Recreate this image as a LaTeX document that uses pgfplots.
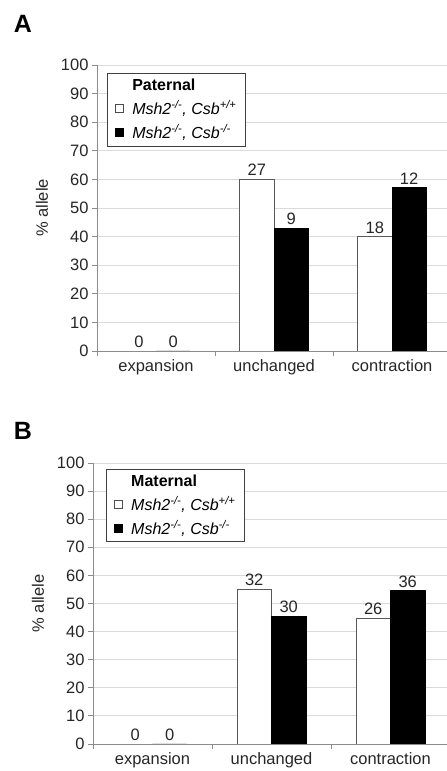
\documentclass[border=0pt]{standalone}
\usepackage{fontspec}
\setmainfont{Liberation Sans}
\usepackage{pgfplots}
\pgfplotsset{compat=1.18}
\definecolor{gridc}{HTML}{DADADA}
\definecolor{axc}{HTML}{8C8C8C}
\definecolor{txt}{HTML}{262626}
\newcommand{\fs}{\fontsize{16.5}{19}\selectfont}
\newcommand{\fl}{\fontsize{16}{19}\selectfont}
\pgfplotsset{
 mybar/.style={
  scale only axis, ymin=0, ymax=100, ytick={0,10,...,100},
  xmin=-0.5,
  axis x line*=bottom, axis y line*=left,
  axis line style={axc, line width=0.8pt, -},
  ymajorgrids, grid style={gridc, line width=0.8pt},
  xtick={0,1,2}, xticklabels={expansion,unchanged,contraction},
  minor xtick={-0.5,0.5,1.5},
  major x tick style={draw=none},
  minor x tick style={axc, line width=0.8pt},
  y tick style={axc, line width=0.8pt},
  tick align=outside,
  major tick length=5pt, minor tick length=5pt,
  tick label style={font=\fs, text=txt},
  /pgf/number format/assume math mode=true,
  ylabel={\% allele},
  every axis y label/.style={at={(rel axis cs:0,0.5)}, xshift=-55pt, rotate=90, anchor=center, font=\fs, text=txt},
  bar width=0.29,
  nodes near coords, point meta=explicit symbolic,
  every node near coord/.append style={font=\fs, text=txt, anchor=south, inner sep=3pt},
  legend cell align=left,
  legend style={anchor=north west, draw=black!75, line width=0.8pt, font=\fl,
     inner xsep=7pt, inner ysep=4pt, row sep=4pt},
 },
 wbar/.style={ybar, bar shift=0pt, fill=white, draw=black!65, line width=0.8pt,
   legend image code/.code={\draw[fill=white,draw=black!70,line width=0.6pt] (0pt,-4pt) rectangle (8pt,4pt); \path (15pt,0pt);}},
 bbar/.style={ybar, bar shift=0pt, fill=black, draw=black, line width=0.8pt,
   legend image code/.code={\draw[fill=black,draw=black,line width=0.6pt] (0pt,-4pt) rectangle (8pt,4pt); \path (15pt,0pt);}},
}
\begin{document}
\begin{tikzpicture}[x=1pt,y=1pt]
\useasboundingbox (0,0) rectangle (447,771);
\node[font=\bfseries\fontsize{25}{25}\selectfont] at (23,747) {A};
\node[font=\bfseries\fontsize{25}{25}\selectfont] at (23,340) {B};
\begin{axis}[mybar, at={(97pt,420pt)}, anchor=south west, width=350pt, height=286pt,
  xmax=2.466, legend style={at={(rel axis cs:0.029,0.972)}}]
\addlegendimage{empty legend}\addlegendentry{\textbf{Paternal}}
\addplot[wbar] coordinates {(-0.145,0) [0] (0.855,60) [27] (1.855,40) [18]};
\addlegendentry{\textit{Msh2\textsuperscript{-/-}, Csb\textsuperscript{+/+}}\hspace{28pt}}
\addplot[bbar] coordinates {(0.145,0) [0] (1.145,42.86) [9] (2.145,57.14) [12]};
\addlegendentry{\textit{Msh2\textsuperscript{-/-}, Csb\textsuperscript{-/-}}}
\end{axis}
\begin{axis}[mybar, at={(93pt,27pt)}, anchor=south west, width=354pt, height=281pt,
  xmax=2.475, legend style={at={(rel axis cs:0.037,0.98)}}]
\addlegendimage{empty legend}\addlegendentry{\textbf{Maternal}}
\addplot[wbar] coordinates {(-0.145,0) [0] (0.855,55.17) [32] (1.855,44.83) [26]};
\addlegendentry{\textit{Msh2\textsuperscript{-/-}, Csb\textsuperscript{+/+}}\hspace{28pt}}
\addplot[bbar] coordinates {(0.145,0) [0] (1.145,45.45) [30] (2.145,54.55) [36]};
\addlegendentry{\textit{Msh2\textsuperscript{-/-}, Csb\textsuperscript{-/-}}}
\end{axis}
\end{tikzpicture}
\end{document}
